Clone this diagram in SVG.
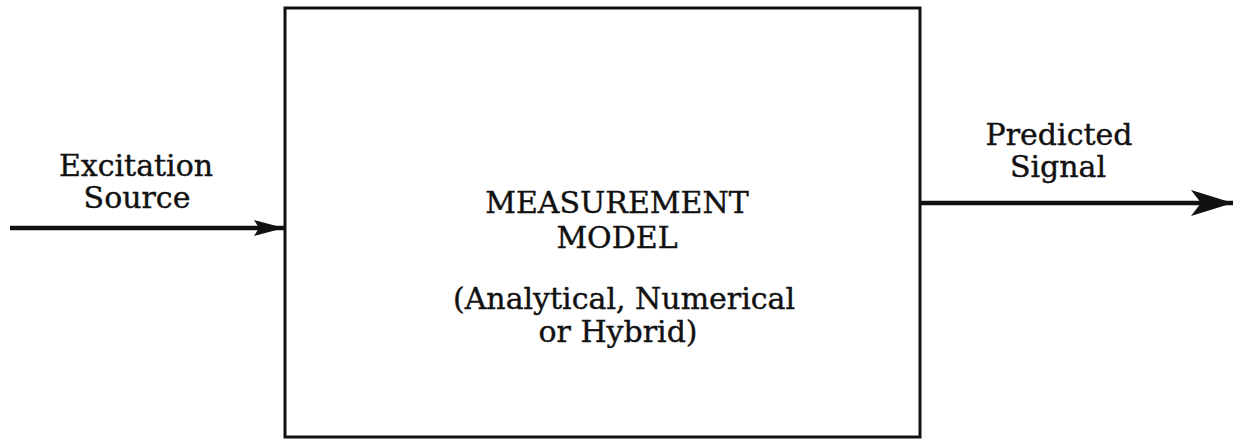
<svg xmlns="http://www.w3.org/2000/svg" width="1236" height="440" viewBox="0 0 1236 440">
<style>
text{font-family:"DejaVu Serif","Liberation Serif",serif;font-size:30px;fill:#111;stroke:#111;stroke-width:0.4;text-anchor:middle}
.box{fill:#fff;stroke:#111;stroke-width:3}
.ln{stroke:#111;stroke-width:4.5;fill:none}
</style>
<defs>
<marker id="ah" markerUnits="userSpaceOnUse" markerWidth="32" markerHeight="20" refX="30" refY="10" orient="auto">
<path d="M0,2 L30,10 L0,18 L5,10 Z" fill="#111"/>
</marker>
<marker id="ah2" markerUnits="userSpaceOnUse" markerWidth="46" markerHeight="28" refX="44" refY="14" orient="auto">
<path d="M2,1 L44,14 L2,27 L12,14 Z" fill="#111"/>
</marker>
</defs>
<rect width="1236" height="440" fill="#fff"/>
<g id="model">
<rect class="box" x="285" y="8" width="635" height="429"/>
<text x="617" y="213">MEASUREMENT</text>
<text x="617" y="248">MODEL</text>
<text x="624" y="309">(Analytical, Numerical</text>
<text x="618" y="342">or Hybrid)</text>
</g>
<g id="input">
<text x="136" y="176">Excitation</text>
<text x="137" y="208">Source</text>
</g>
<g id="output">
<text x="1059" y="145">Predicted</text>
<text x="1058" y="177">Signal</text>
</g>
<g id="connectors">
<line class="ln" x1="10" y1="228" x2="284" y2="228" marker-end="url(#ah)"/>
<line class="ln" x1="921" y1="203" x2="1233" y2="203" marker-end="url(#ah2)"/>
</g>
</svg>
